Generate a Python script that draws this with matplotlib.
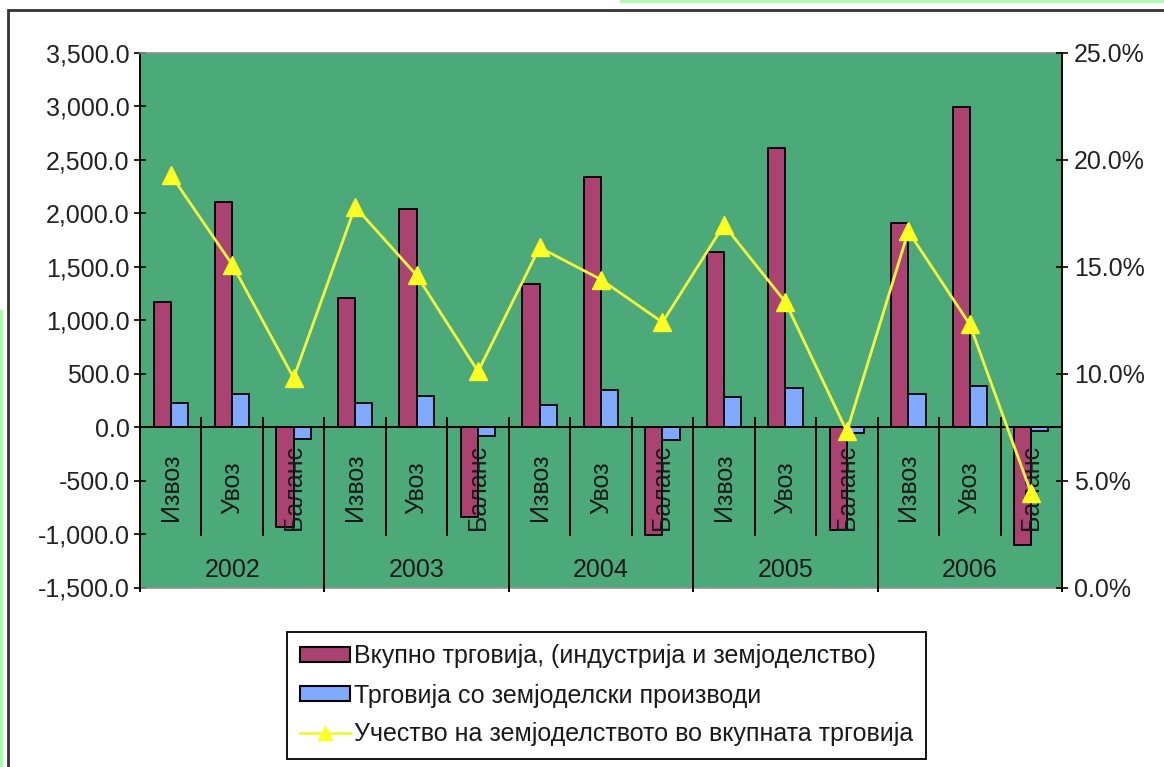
import matplotlib
matplotlib.use("Agg")
import matplotlib.pyplot as plt
from matplotlib.patches import Rectangle
from matplotlib.lines import Line2D
from matplotlib.ticker import FuncFormatter, MultipleLocator

plt.rcParams['font.family'] = ['Liberation Sans', 'DejaVu Sans']

years = ['2002', '2003', '2004', '2005', '2006']
kinds = ['Извоз', 'Увоз', 'Баланс']
total_trade = [1170, 2105, -935, 1210, 2040, -840, 1340, 2336, -1010,
               1641, 2606, -965, 1910, 2990, -1100]
agri_trade = [224, 308, -108, 224, 293, -87, 209, 343, -120,
              280, 361, -55, 311, 380, -38]
agri_share = [19.3, 15.1, 9.8, 17.8, 14.6, 10.1, 15.9, 14.4, 12.4,
              16.95, 13.35, 7.3, 16.65, 12.3, 4.4]
series_names = ['Вкупно трговија, (индустрија и земјоделство)',
                'Трговија со земјоделски производи',
                'Учество на земјоделството во вкупната трговија']

W, H = 1164, 767
FS = 18
fig = plt.figure(figsize=(W / 100, H / 100), dpi=100)
fig.patch.set_facecolor('white')

# decorative frame
fig.patches.append(Rectangle((620 / W, 1 - 3 / H), 1, 3 / H, transform=fig.transFigure,
                             facecolor='#b4fcb4', edgecolor='none'))
fig.patches.append(Rectangle((0, 0), 3 / W, 1 - 310 / H, transform=fig.transFigure,
                             facecolor='#a8fca8', edgecolor='none'))
fig.patches.append(Rectangle((8 / W, -0.1), 2, 1 - 10 / H + 0.1, transform=fig.transFigure,
                             facecolor='none', edgecolor='#333333', lw=2))

left, right, top, bottom = 140, 1062, 52.8, 587.5
ax = fig.add_axes([left / W, 1 - bottom / H, (right - left) / W, (bottom - top) / H])
ax.set_facecolor('#4caa7a')

n = len(total_trade)
x = list(range(n))
bw = 0.28
red = '#aa4272'
blue = '#80aaff'
ax.bar([i - bw / 2 for i in x], total_trade, width=bw, color=red,
       edgecolor='black', linewidth=1.3, zorder=3)
ax.bar([i + bw / 2 for i in x], agri_trade, width=bw, color=blue,
       edgecolor='black', linewidth=1.3, zorder=3)

ax.set_xlim(-0.5, n - 0.5)
ax.set_ylim(-1500, 3500)
ax.yaxis.set_major_locator(MultipleLocator(500))
ax.yaxis.set_major_formatter(FuncFormatter(lambda v, p: f'{v:,.1f}'))
ax.tick_params(axis='y', direction='inout', length=9, width=1.2, labelsize=FS,
               labelcolor='#222222', pad=3)
ax.set_xticks([])
for s in ['top', 'bottom']:
    ax.spines[s].set_color('#909090')
    ax.spines[s].set_linewidth(1.2)
ax.spines['left'].set_color('black')
ax.spines['left'].set_linewidth(1.4)
ax.spines['right'].set_visible(False)

# category axis at zero
ax.axhline(0, color='black', lw=1.4, zorder=4)
for i in range(n - 1):
    if (i + 1) % 3 == 0:
        ax.plot([i + 0.5, i + 0.5], [85, -1530], color='black', lw=1.4,
                clip_on=False, zorder=4)
    else:
        ax.plot([i + 0.5, i + 0.5], [85, -1010], color='black', lw=1.4, zorder=4)
ax.plot([-0.5, -0.5], [0, -1530], color='black', lw=1.4, clip_on=False, zorder=4)
ax.plot([n - 0.5, n - 0.5], [0, -1530], color='black', lw=1.4, clip_on=False, zorder=4)

for i in x:
    ax.text(i, -567, kinds[i % 3], rotation=90, ha='center', va='center',
            fontsize=FS, color='#1a1a1a', zorder=5)
for k, yr in enumerate(years):
    ax.text(3 * k + 1, -1335, yr, ha='center', va='center', fontsize=FS,
            color='#1a1a1a', zorder=5)

ax2 = ax.twinx()
ax2.set_ylim(0, 25)
ax2.yaxis.set_major_locator(MultipleLocator(5))
ax2.yaxis.set_major_formatter(FuncFormatter(lambda v, p: f'{v:.1f}%'))
ax2.tick_params(axis='y', direction='inout', length=9, width=1.2, labelsize=FS,
                labelcolor='#222222', pad=4)
for s in ['top', 'bottom', 'left']:
    ax2.spines[s].set_visible(False)
ax2.spines['right'].set_color('black')
ax2.spines['right'].set_linewidth(1.4)
yellow = '#f5f53c'
ax2.plot(x, agri_share, color=yellow, lw=2, marker='^', markersize=13,
         markerfacecolor='#ffff22', markeredgecolor='#ffff22', zorder=6)

handles = [Rectangle((0, 0), 1, 1, facecolor=red, edgecolor='black', lw=1.5),
           Rectangle((0, 0), 1, 1, facecolor=blue, edgecolor='black', lw=1.5),
           Line2D([], [], color=yellow, lw=2, marker='^', markersize=10,
                  markerfacecolor='#ffff22', markeredgecolor='#ffff22')]
leg = fig.legend(handles, series_names, loc='upper left',
                 bbox_to_anchor=(287 / W, 1 - 632 / H), fontsize=FS,
                 frameon=True, fancybox=False, edgecolor='black', framealpha=1,
                 handlelength=2.0, handleheight=0.55, handletextpad=0.2,
                 labelspacing=0.6, borderpad=0.5, borderaxespad=0)
leg.get_frame().set_linewidth(1.3)
for t in leg.get_texts():
    t.set_color('#1a1a1a')

fig.savefig('out.png', dpi=100)
